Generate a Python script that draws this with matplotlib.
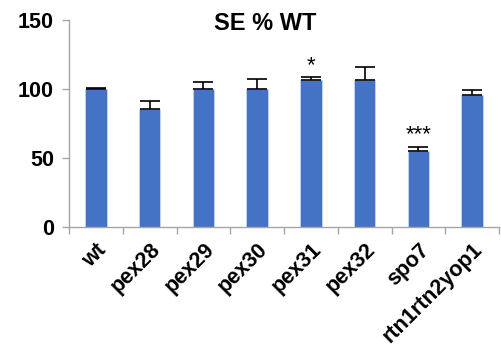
import numpy as np
import matplotlib.pyplot as plt

plt.rcParams['font.family'] = ['Liberation Sans', 'DejaVu Sans']

strains = ["wt", "pex28", "pex29", "pex30", "pex31", "pex32", "spo7", "rtn1rtn2yop1"]
se_pct = [100, 85.3, 100, 100, 106.5, 106.5, 55, 95.4]
se_err = [0.4, 5.7, 5.2, 7.2, 2.0, 9.0, 3.0, 3.9]
stars = ["", "", "", "", "*", "", "***", ""]

fig = plt.figure(figsize=(5.01, 3.54), dpi=100)
ax = fig.add_axes([0.138, 0.359, 0.858, 0.585])

x = np.arange(len(strains))
ax.bar(x, se_pct, width=0.4, color='#4472C4', edgecolor='#c9d6ee', linewidth=0.6, zorder=2)
ax.errorbar(x, se_pct, yerr=[np.zeros(len(x)), se_err], fmt='none',
            ecolor='black', elinewidth=1.2, capsize=7, capthick=1.2, zorder=3)

for xi, v, e, s in zip(x, se_pct, se_err, stars):
    if s:
        ax.text(xi, v + e + 1.0, s, ha='center', va='bottom', fontsize=16)

ax.set_xlim(-0.5, len(strains) - 0.5)
ax.set_ylim(0, 150)
ax.set_yticks([0, 50, 100, 150])
ax.set_yticklabels(["0", "50", "100", "150"], fontsize=15.5, fontweight='bold')

ax.set_xticks(x)
ax.set_xticklabels(strains, fontsize=15.5, fontweight='bold', rotation=45,
                   ha='right', rotation_mode='anchor')
ax.tick_params(axis='x', length=0, pad=9)
ax.set_xticks(np.arange(len(strains) + 1) - 0.5, minor=True)
ax.tick_params(axis='x', which='minor', length=5, color='#a6a6a6', width=1)
ax.tick_params(axis='y', length=5, color='#a6a6a6', width=1, pad=6)

for side in ['top', 'right']:
    ax.spines[side].set_visible(False)
for side in ['left', 'bottom']:
    ax.spines[side].set_color('#a6a6a6')
    ax.spines[side].set_linewidth(1)

fig.text(0.529, 1 - 23 / 354, "SE % WT", fontsize=17, fontweight='bold',
         ha='center', va='center')

fig.savefig("out.png", dpi=100)
